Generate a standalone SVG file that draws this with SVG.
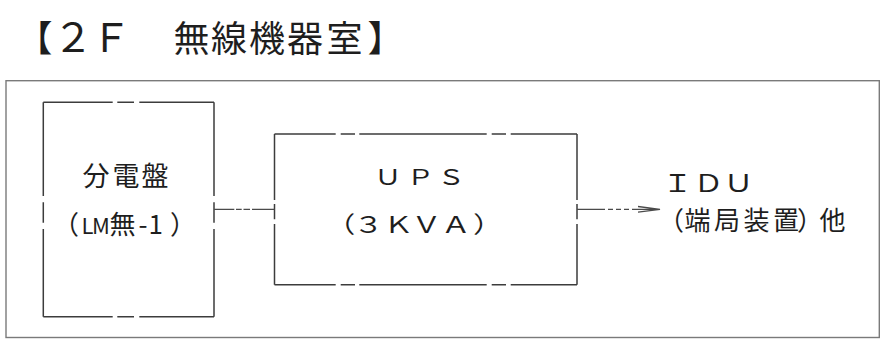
<svg xmlns="http://www.w3.org/2000/svg" width="893" height="339" viewBox="0 0 893 339">
<style>
  .frame{fill:none;stroke:#7a7a7a;stroke-width:1.4}
  .box{fill:none;stroke:#3c3c3c;stroke-width:1.5}
  .conn{fill:none;stroke:#4a4a4a;stroke-width:1.3}
  .t{font-family:"Noto Sans CJK JP","Noto Sans",sans-serif;fill:#1e1e1e}
  .c{text-anchor:middle}
</style>
<rect width="893" height="339" fill="#ffffff"/>
<text id="title" class="t c" font-size="36" y="52"><tspan x="34.5">【</tspan><tspan x="73" font-size="40">２</tspan><tspan x="111" font-size="40">Ｆ</tspan><tspan x="150">　</tspan><tspan x="191.5">無</tspan><tspan x="229">線</tspan><tspan x="267">機</tspan><tspan x="305">器</tspan><tspan x="344.5">室</tspan><tspan x="385.5">】</tspan></text>
<rect class="frame" x="6" y="80.7" width="873.3" height="256.8"/>
<g id="panel">
  <path class="box" d="M43.3,102.3H112.7M117.3,102.3H134M139.3,102.3H214M43.3,316.7H112.7M117.3,316.7H134M139.3,316.7H214M43.3,102.3V196M43.3,202.3V222.7M43.3,229V316.7M214,102.3V196M214,202.3V222.7M214,229V316.7"/>
  <text class="t c" font-size="27" y="185.5" x="96 126 155">分電盤</text>
  <text class="t" font-size="26" y="233.5"><tspan x="53">（</tspan><tspan x="81.5" font-size="22" letter-spacing="-1.5">LM</tspan><tspan x="109.5">無</tspan><tspan x="138.5">-</tspan><tspan x="148.5">1</tspan><tspan x="170">）</tspan></text>
</g>
<g id="ups">
  <path class="box" d="M274.5,134H335.7M340.7,134H355M359.3,134H486.7M491.7,134H506M510.7,134H577M274.5,284.7H335.7M340.7,284.7H355M359.3,284.7H486.7M491.7,284.7H506M510.7,284.7H577M274.5,134V200M274.5,204V219.3M274.5,224V284.7M577,134V200M577,204V219.3M577,224V284.7"/>
  <text class="t c" font-size="21" transform="translate(420.5,185) scale(1.3,1)" x="-25 0 23.5" y="0">ＵＰＳ</text>
  <text class="t c" font-size="23" transform="translate(414,233) scale(1.3,1)" x="-56.5 -35 -11.9 9.6 32.3 56.8" y="0">（３ＫＶＡ）</text>
</g>
<g id="idu">
  <text class="t c" font-size="24" transform="translate(708.5,191.5) scale(1.25,1)" x="-24.8 0 24" y="0">ＩＤＵ</text>
  <text class="t c" font-size="26" y="230" x="671 697.5 727 756.5 786 810 832.5">（端局装置）他</text>
</g>
<g id="connectors">
  <path class="conn" d="M214,209.3H234.3M236,209.3H241.7M243.5,209.3H250M252,209.3H274.5"/>
  <path class="conn" d="M577,209.3H605M608,209.3H613M616,209.3H621M624,209.3H629M632,209.3H660M638,206.5L660,209.3L638,212.1"/>
</g>
</svg>
